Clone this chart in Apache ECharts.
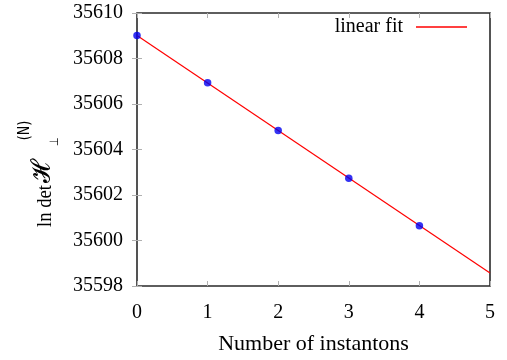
<!DOCTYPE html>
<html>
<head>
<meta charset="utf-8">
<script src="https://cdn.jsdelivr.net/npm/echarts@6/dist/echarts.min.js"></script>
<style>
  html, body { margin: 0; padding: 0; background: #fff; }
  #chart { width: 507px; height: 360px; }
</style>
</head>
<body>
<div id="chart"></div>
<script>
// Measured values: ln det of the fluctuation operator vs. number of instantons
const instantons = [0, 1, 2, 3, 4];
const lnDet = [35609.01, 35606.93, 35604.83, 35602.74, 35600.65];

// Linear fit, evaluated at the ends of the x range
const fitX = [0, 5];
const fitY = [35609.01, 35598.57];

// Axis ticks
const xTicks = [0, 1, 2, 3, 4, 5];
const yTicks = [35598, 35600, 35602, 35604, 35606, 35608, 35610];

const SERIF = "'Liberation Serif', 'DejaVu Serif', serif";
const ticks = { show: true, inside: true, length: 5, lineStyle: { color: '#b0b0b0', width: 1 } };

function xAxisCfg(pos, labels) {
  return {
    type: 'value', position: pos,
    min: xTicks[0], max: xTicks[xTicks.length - 1], interval: xTicks[1] - xTicks[0],
    axisLine: { show: false }, axisTick: ticks, splitLine: { show: false },
    axisLabel: { show: labels, margin: 17, color: '#000', fontFamily: SERIF, fontSize: 20 }
  };
}
function yAxisCfg(pos, labels) {
  return {
    type: 'value', position: pos,
    min: yTicks[0], max: yTicks[yTicks.length - 1], interval: yTicks[1] - yTicks[0],
    axisLine: { show: false }, axisTick: ticks, splitLine: { show: false },
    axisLabel: { show: labels, margin: 14, color: '#000', fontFamily: SERIF, fontSize: 20,
                 formatter: v => String(v) }
  };
}

const chart = echarts.init(document.getElementById('chart'), null, { renderer: 'canvas' });

const xBottom = xAxisCfg('bottom', true);
xBottom.name = 'Number of instantons';
xBottom.nameLocation = 'middle';
xBottom.nameGap = 47;
xBottom.nameTextStyle = { color: '#000', fontFamily: SERIF, fontSize: 22 };

chart.setOption({
  animation: false,
  backgroundColor: '#fff',
  grid: { left: 137, right: 17, top: 13, bottom: 71, show: true,
          borderColor: '#2a2a2a', borderWidth: 1.6, backgroundColor: 'transparent' },
  xAxis: [xBottom, xAxisCfg('top', false)],
  yAxis: [yAxisCfg('left', true), yAxisCfg('right', false)],
  legend: {
    data: [{ name: 'linear fit', icon: 'rect' }],
    right: 35, top: 12,
    align: 'right',
    itemWidth: 51, itemHeight: 1.3,
    textStyle: { color: '#000', fontFamily: SERIF, fontSize: 20, padding: [0, 8, 0, 0] }
  },
  series: [
    {
      name: 'linear fit',
      type: 'line',
      data: fitX.map((x, i) => [x, fitY[i]]),
      symbol: 'none',
      lineStyle: { color: '#ff0000', width: 1.2 },
      itemStyle: { color: '#ff0000' },
      z: 2
    },
    {
      name: 'data',
      type: 'scatter',
      data: instantons.map((x, i) => [x, lnDet[i]]),
      symbol: 'circle',
      symbolSize: 7.5,
      clip: false,
      itemStyle: { color: '#0000f0' },
      z: 3
    }
  ],
  graphic: [{
    type: 'group',
    x: 52, y: 227,
    rotation: Math.PI / 2,
    scaleX: 0.85,
    children: [
      { type: 'text', x: 0, y: -7, style: { text: 'ln det', fill: '#000', font: "22px " + SERIF, verticalAlign: 'middle', align: 'left' } },
      { type: 'text', x: 52, y: -10, style: { text: '\uD835\uDCD7', fill: '#000', font: "26px 'DejaVu Serif', 'DejaVu Sans', 'Noto Sans', serif", verticalAlign: 'middle', align: 'left' } },
      { type: 'text', x: 95, y: 3, style: { text: '\u22A5', fill: '#000', font: "12px 'DejaVu Sans', sans-serif", verticalAlign: 'middle', align: 'left' } },
      { type: 'text', x: 102, y: -27, style: { text: '(N)', fill: '#000', font: "15px 'DejaVu Sans', sans-serif", verticalAlign: 'middle', align: 'left' } }
    ]
  }]
});
</script>
</body>
</html>
